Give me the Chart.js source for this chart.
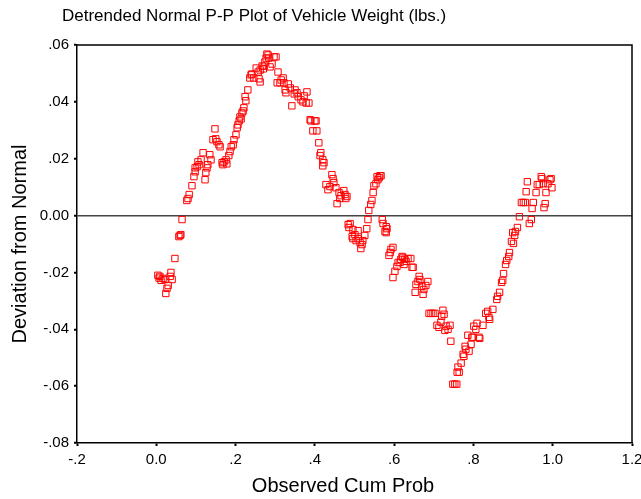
<!DOCTYPE html>
<html>
<head>
<meta charset="utf-8">
<script src="https://cdn.jsdelivr.net/npm/chart.js@4.4.1/dist/chart.umd.min.js"></script>
<style>
    html, body { margin: 0; padding: 0; background: #fff; }
    #wrap { width: 641px; height: 499px; }
</style>
</head>
<body>
<div id="wrap"><canvas id="ppPlot"></canvas></div>
<script>
const chartTitle = 'Detrended Normal P-P Plot of Vehicle Weight (lbs.)';
const xTitle = 'Observed Cum Prob';
const yTitle = 'Deviation from Normal';

// observed cumulative probability (x)
const cumProb = [
    0.004, 0.007, 0.009, 0.012, 0.017, 0.022, 0.024, 0.027, 0.030, 0.035,
    0.037, 0.040, 0.047, 0.057, 0.060, 0.062, 0.065, 0.077, 0.080, 0.083,
    0.090, 0.095, 0.098, 0.098, 0.103, 0.105, 0.108, 0.113, 0.118, 0.123,
    0.125, 0.128, 0.130, 0.135, 0.138, 0.143, 0.148, 0.150, 0.153, 0.158,
    0.161, 0.166, 0.168, 0.171, 0.176, 0.178, 0.183, 0.186, 0.189, 0.194,
    0.196, 0.201, 0.204, 0.206, 0.209, 0.211, 0.214, 0.216, 0.219, 0.221,
    0.224, 0.226, 0.231, 0.236, 0.239, 0.241, 0.246, 0.252, 0.257, 0.259,
    0.262, 0.262, 0.267, 0.270, 0.272, 0.274, 0.277, 0.279, 0.282, 0.284,
    0.287, 0.292, 0.297, 0.302, 0.305, 0.307, 0.312, 0.315, 0.320, 0.322,
    0.325, 0.327, 0.333, 0.338, 0.342, 0.348, 0.350, 0.355, 0.358, 0.365,
    0.370, 0.373, 0.378, 0.380, 0.385, 0.388, 0.390, 0.395, 0.400, 0.403,
    0.405, 0.410, 0.413, 0.415, 0.420, 0.420, 0.423, 0.428, 0.433, 0.438,
    0.443, 0.446, 0.448, 0.453, 0.456, 0.461, 0.463, 0.466, 0.473, 0.476,
    0.478, 0.481, 0.484, 0.486, 0.489, 0.494, 0.496, 0.496, 0.501, 0.504,
    0.509, 0.509, 0.514, 0.516, 0.519, 0.521, 0.526, 0.531, 0.534, 0.536,
    0.541, 0.544, 0.547, 0.549, 0.554, 0.557, 0.559, 0.562, 0.564, 0.567,
    0.570, 0.572, 0.577, 0.580, 0.580, 0.582, 0.587, 0.590, 0.592, 0.597,
    0.597, 0.602, 0.607, 0.610, 0.615, 0.617, 0.620, 0.622, 0.625, 0.627,
    0.630, 0.635, 0.642, 0.645, 0.648, 0.653, 0.655, 0.660, 0.663, 0.665,
    0.670, 0.673, 0.675, 0.680, 0.685, 0.688, 0.693, 0.698, 0.703, 0.708,
    0.713, 0.718, 0.720, 0.723, 0.726, 0.728, 0.731, 0.736, 0.741, 0.743,
    0.748, 0.753, 0.758, 0.759, 0.761, 0.764, 0.769, 0.774, 0.776, 0.779,
    0.781, 0.786, 0.789, 0.794, 0.796, 0.799, 0.801, 0.806, 0.809, 0.814,
    0.816, 0.824, 0.831, 0.836, 0.839, 0.841, 0.849, 0.859, 0.861, 0.866,
    0.871, 0.874, 0.876, 0.881, 0.884, 0.889, 0.891, 0.896, 0.899, 0.901,
    0.904, 0.906, 0.911, 0.916, 0.921, 0.926, 0.931, 0.933, 0.936, 0.941,
    0.946, 0.948, 0.951, 0.958, 0.961, 0.966, 0.971, 0.973, 0.976, 0.978,
    0.981, 0.983, 0.988, 0.993, 0.996, 0.998
];

// deviation from normal (y)
const deviation = [
    -0.0210, -0.0220, -0.0214, -0.0228, -0.0221, -0.0225, -0.0274, -0.0256, -0.0246, -0.0214,
    -0.0200, -0.0225, -0.0151, -0.0074, -0.0070, -0.0067, -0.0014, 0.0053, 0.0060, 0.0074,
    0.0105, 0.0137, 0.0154, 0.0168, 0.0172, 0.0189, 0.0179, 0.0196, 0.0221, 0.0126,
    0.0151, 0.0168, 0.0179, 0.0214, 0.0196, 0.0267, 0.0305, 0.0270, 0.0260, 0.0249,
    0.0242, 0.0186, 0.0179, 0.0189, 0.0196, 0.0182, 0.0211, 0.0225, 0.0242, 0.0249,
    0.0267, 0.0284, 0.0309, 0.0319, 0.0333, 0.0347, 0.0340, 0.0361, 0.0368, 0.0379,
    0.0418, 0.0404, 0.0442, 0.0484, 0.0495, 0.0498, 0.0484, 0.0519, 0.0505, 0.0481,
    0.0512, 0.0470, 0.0526, 0.0516, 0.0526, 0.0540, 0.0554, 0.0568, 0.0565, 0.0554,
    0.0523, 0.0533, 0.0558, 0.0558, 0.0467, 0.0505, 0.0467, 0.0477, 0.0484, 0.0467,
    0.0442, 0.0432, 0.0463, 0.0449, 0.0386, 0.0428, 0.0442, 0.0432, 0.0418, 0.0407,
    0.0400, 0.0421, 0.0396, 0.0435, 0.0396, 0.0337, 0.0333, 0.0298, 0.0333, 0.0333,
    0.0298, 0.0256, 0.0211, 0.0221, 0.0196, 0.0175, 0.0186, 0.0109, 0.0091, 0.0102,
    0.0144, 0.0130, 0.0116, 0.0098, 0.0042, 0.0081, 0.0060, 0.0070, 0.0088, 0.0074,
    0.0060, 0.0067, -0.0032, -0.0042, -0.0028, -0.0074, -0.0049, -0.0081, -0.0067, -0.0088,
    -0.0053, -0.0081, -0.0095, -0.0116, -0.0102, -0.0088, -0.0070, -0.0046, -0.0014, 0.0018,
    0.0039, 0.0053, 0.0081, 0.0105, 0.0112, 0.0137, 0.0126, 0.0133, 0.0140, 0.0140,
    -0.0014, -0.0028, -0.0056, -0.0039, -0.0060, -0.0046, -0.0140, -0.0130, -0.0119, -0.0112,
    -0.0218, -0.0196, -0.0179, -0.0165, -0.0165, -0.0154, -0.0144, -0.0147, -0.0172, -0.0154,
    -0.0161, -0.0151, -0.0151, -0.0182, -0.0182, -0.0270, -0.0242, -0.0232, -0.0214, -0.0225,
    -0.0249, -0.0277, -0.0260, -0.0246, -0.0232, -0.0344, -0.0344, -0.0344, -0.0344, -0.0386,
    -0.0393, -0.0375, -0.0354, -0.0333, -0.0347, -0.0404, -0.0389, -0.0400, -0.0386, -0.0442,
    -0.0593, -0.0593, -0.0593, -0.0551, -0.0533, -0.0551, -0.0519, -0.0488, -0.0495, -0.0460,
    -0.0470, -0.0421, -0.0477, -0.0453, -0.0428, -0.0428, -0.0389, -0.0400, -0.0379, -0.0428,
    -0.0432, -0.0386, -0.0344, -0.0337, -0.0358, -0.0365, -0.0330, -0.0295, -0.0284, -0.0270,
    -0.0235, -0.0228, -0.0204, -0.0172, -0.0158, -0.0144, -0.0130, -0.0091, -0.0060, -0.0098,
    -0.0070, -0.0056, -0.0042, -0.0004, 0.0046, 0.0046, 0.0046, 0.0084, 0.0119, -0.0028,
    -0.0014, 0.0025, 0.0046, 0.0081, 0.0109, 0.0109, 0.0137, 0.0130, 0.0112, 0.0028,
    0.0042, 0.0081, 0.0112, 0.0126, 0.0130, 0.0098
];

const points = cumProb.map((x, i) => ({ x: x, y: deviation[i] }));

const fontFamily = "'Liberation Sans', Arial, sans-serif";

// SPSS style numbers: .06, -.02, 0.00, 1.0
function spssNum(v, digits) {
    const f = Math.pow(10, digits);
    const r = Math.round(v * f) / f;
    if (r === 0) return (0).toFixed(digits);
    let s = Math.abs(r).toFixed(digits);
    if (Math.abs(r) < 1) s = s.replace(/^0/, '');
    return (r < 0 ? '-' : '') + s;
}

const framePlugin = {
    id: 'frame',
    afterDraw(chart) {
        const { ctx, chartArea: a } = chart;
        ctx.save();
        ctx.strokeStyle = '#000';
        ctx.lineWidth = 1.5;
        ctx.beginPath();
        ctx.moveTo(a.left, a.top);
        ctx.lineTo(a.right, a.top);
        ctx.lineTo(a.right, a.bottom);
        ctx.stroke();

        ctx.fillStyle = '#000';
        ctx.textBaseline = 'middle';
        ctx.font = '17px ' + fontFamily;
        ctx.textAlign = 'left';
        ctx.fillText(chartTitle, 62, 16);
        ctx.font = '20px ' + fontFamily;
        ctx.textAlign = 'center';
        ctx.fillText(xTitle, 343, 486);
        ctx.restore();
    }
};

const config = {
    type: 'scatter',
    data: {
        datasets: [{
            label: yTitle,
            data: points,
            pointStyle: 'rect',
            radius: 4.5,
            hoverRadius: 4.5,
            borderWidth: 1,
            borderColor: '#ff0000',
            backgroundColor: 'rgba(0,0,0,0)'
        }]
    },
    options: {
        responsive: true,
        maintainAspectRatio: false,
        animation: false,
        layout: {
            padding: { top: 45, left: 0, right: 9, bottom: 0 }
        },
        plugins: {
            legend: { display: false },
            tooltip: { enabled: false }
        },
        scales: {
            x: {
                type: 'linear',
                min: -0.2,
                max: 1.2,
                ticks: {
                    stepSize: 0.2,
                    color: '#000',
                    padding: 5,
                    font: { family: fontFamily, size: 15 },
                    callback: (v) => spssNum(v, 1)
                },
                grid: {
                    drawOnChartArea: false,
                    color: '#000',
                    tickLength: 3,
                    tickWidth: 2
                },
                border: { color: '#000', width: 1.5 },
                afterFit: (s) => { s.height = 56; s.paddingLeft = 0; s.paddingRight = 0; }
            },
            y: {
                min: -0.08,
                max: 0.06,
                ticks: {
                    stepSize: 0.02,
                    color: '#000',
                    padding: 5,
                    font: { family: fontFamily, size: 15 },
                    callback: (v) => spssNum(v, 2)
                },
                grid: {
                    color: (c) => (c.tick && Math.abs(c.tick.value) < 1e-9) ? '#444' : 'rgba(0,0,0,0)',
                    lineWidth: 1.5,
                    tickColor: '#000',
                    tickLength: 3,
                    tickWidth: 2
                },
                border: { color: '#000', width: 1.5 },
                title: {
                    display: true,
                    text: yTitle,
                    color: '#000',
                    font: { family: fontFamily, size: 20 },
                    padding: { top: 8, bottom: 0 }
                },
                afterFit: (s) => { s.width = 77; s.paddingTop = 0; s.paddingBottom = 0; }
            }
        }
    },
    plugins: [framePlugin]
};

const ppPlot = new Chart(document.getElementById('ppPlot'), config);
</script>
</body>
</html>
